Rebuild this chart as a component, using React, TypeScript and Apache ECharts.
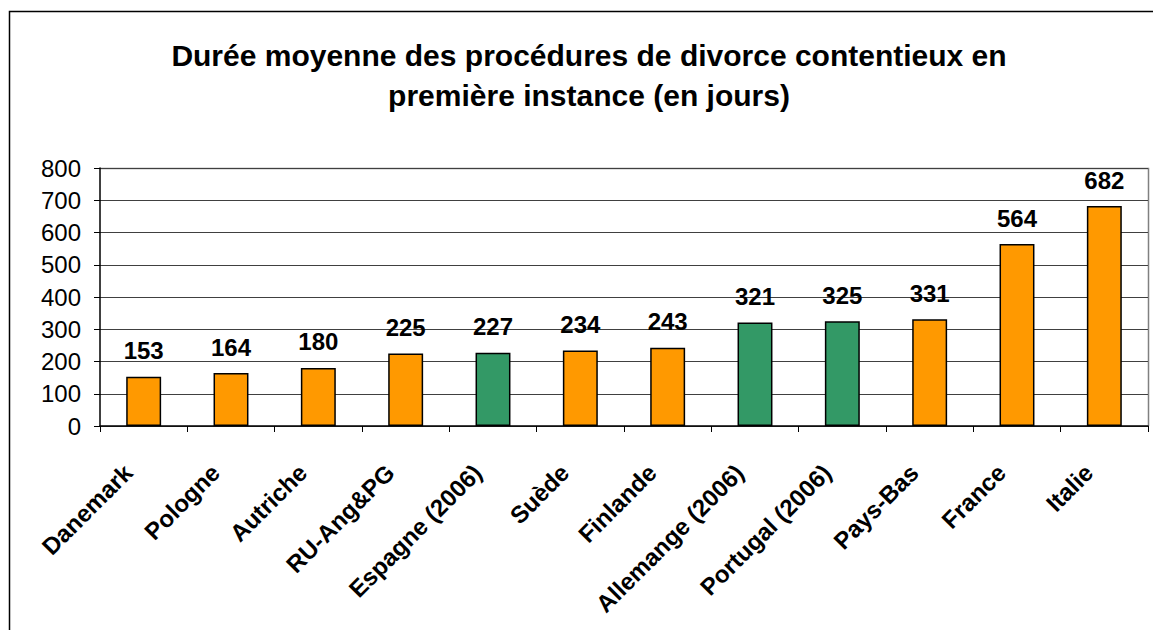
import React, { useEffect, useRef } from "react";
import * as echarts from "echarts";

const categories = [
  "Danemark",
  "Pologne",
  "Autriche",
  "RU-Ang&PG",
  "Espagne (2006)",
  "Suède",
  "Finlande",
  "Allemange (2006)",
  "Portugal (2006)",
  "Pays-Bas",
  "France",
  "Italie",
];
const values = [153, 164, 180, 225, 227, 234, 243, 321, 325, 331, 564, 682];
const highlighted = [false, false, false, false, true, false, false, true, true, false, false, false];
const titleLines = [
  "Durée moyenne des procédures de divorce contentieux en",
  "première instance (en jours)",
];

const ORANGE = "#FF9900";
const GREEN = "#339966";
const FONT = "Liberation Sans, Arial, sans-serif";

export default function App() {
  const ref = useRef<HTMLDivElement>(null);
  useEffect(() => {
    if (!ref.current) return;
    const chart = echarts.init(ref.current, undefined, { renderer: "svg" });
    chart.setOption({
      animation: false,
      backgroundColor: "#ffffff",
      textStyle: { fontFamily: FONT },
      graphic: [
        {
          type: "rect",
          shape: { x: 9.5, y: 11.5, width: 1170, height: 650 },
          style: { fill: "none", stroke: "#000", lineWidth: 1.5 },
          silent: true,
          z: -10,
        },
        {
          type: "text",
          x: 589,
          y: 55,
          style: {
            text: titleLines[0],
            fontSize: 30,
            fontWeight: "bold",
            fontFamily: FONT,
            fill: "#000",
            align: "center",
            verticalAlign: "middle",
          },
        },
        {
          type: "text",
          x: 589,
          y: 95,
          style: {
            text: titleLines[1],
            fontSize: 30,
            fontWeight: "bold",
            fontFamily: FONT,
            fill: "#000",
            align: "center",
            verticalAlign: "middle",
          },
        },
        {
          type: "polyline",
          shape: { points: [[100, 168.5], [1148.5, 168.5], [1148.5, 426]] },
          style: { fill: "none", stroke: "#808080", lineWidth: 1.5 },
          silent: true,
        },
      ],
      grid: { left: 100, right: 5, top: 168, bottom: 204, containLabel: false },
      xAxis: {
        type: "category",
        data: categories,
        axisLine: { show: true, lineStyle: { color: "#000", width: 1.5 } },
        axisTick: { show: true, alignWithLabel: false, length: 6, lineStyle: { color: "#000" } },
        axisLabel: {
          interval: 0,
          rotate: 45,
          margin: 27,
          padding: [0, 22, 0, 0],
          fontSize: 24,
          fontWeight: "bold",
          color: "#000",
          fontFamily: FONT,
        },
      },
      yAxis: {
        type: "value",
        min: 0,
        max: 800,
        interval: 100,
        axisLine: { show: true, lineStyle: { color: "#000", width: 1.5 } },
        axisTick: { show: true, length: 6, lineStyle: { color: "#000" } },
        axisLabel: {
          fontSize: 24,
          color: "#000",
          margin: 19,
          fontFamily: FONT,
        },
        splitLine: { show: true, lineStyle: { color: "#404040", width: 1 } },
      },
      series: [
        {
          type: "bar",
          barWidth: "40%",
          data: values.map((v, i) => ({
            value: v,
            itemStyle: { color: highlighted[i] ? GREEN : ORANGE },
          })),
          itemStyle: { borderColor: "#000", borderWidth: 1.5 },
          label: {
            show: true,
            position: "top",
            distance: 14,
            fontSize: 24,
            fontWeight: "bold",
            color: "#000",
            fontFamily: FONT,
          },
        },
      ],
    });
    return () => chart.dispose();
  }, []);
  return (
    <div
      ref={ref}
      style={{ position: "fixed", left: 0, top: 0, width: 1153, height: 630 }}
    />
  );
}
